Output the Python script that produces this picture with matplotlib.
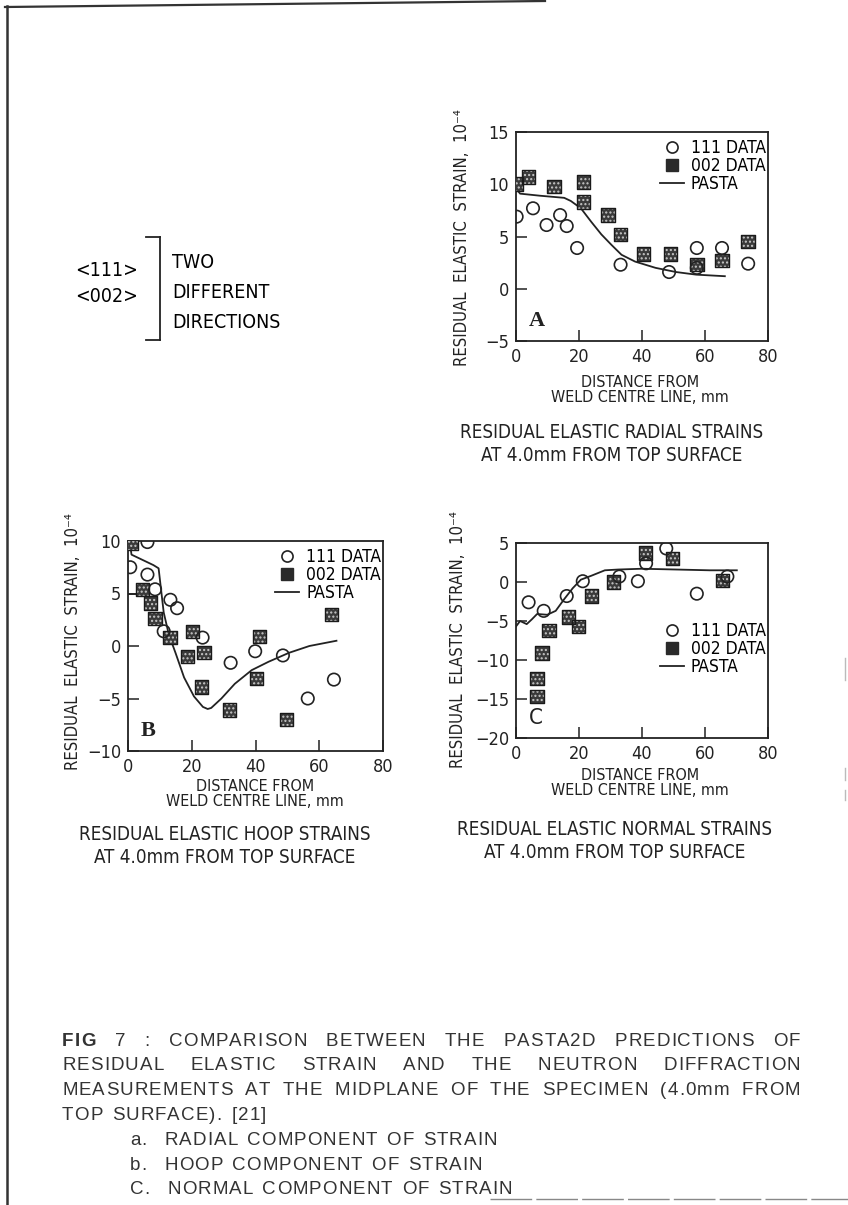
import matplotlib
matplotlib.use("Agg")
import matplotlib.pyplot as plt
from matplotlib import font_manager as fm
from matplotlib.lines import Line2D

W, H = 848, 1205

# look for a narrow sans face (the scan uses condensed lettering)
narrow_name, narrow_stretch = "DejaVu Sans", "normal"
for f in fm.fontManager.ttflist:
    cond = f.stretch in ("condensed", "semi-condensed", "extra-condensed") \
        or "Narrow" in f.name or "Condensed" in f.name
    if cond and "Sans" in f.name and f.style == "normal" and f.weight in (400, "normal", "regular"):
        narrow_name, narrow_stretch = f.name, f.stretch
        break
NARROW = [narrow_name, "DejaVu Sans"]
plt.rcParams['font.family'] = NARROW
plt.rcParams['font.stretch'] = narrow_stretch
plt.rcParams['axes.unicode_minus'] = True

# ---- panel A : radial strain ----
a111_x = [0.2, 5.4, 9.7, 14.0, 16.1, 19.4, 33.2, 48.6, 57.4, 57.4, 65.4, 73.7]
a111_y = [6.9, 7.7, 6.1, 7.05, 6.0, 3.9, 2.3, 1.6, 3.9, 2.0, 3.9, 2.4]
a002_x = [0.2, 4.0, 12.0, 21.5, 21.5, 29.2, 33.2, 40.5, 49.1, 57.4, 65.4, 73.7]
a002_y = [10.0, 10.7, 9.8, 10.2, 8.3, 7.05, 5.2, 3.3, 3.3, 2.3, 2.7, 4.5]
a_pasta_x = [0, 1.3, 7.7, 15.3, 17.4, 20.6, 23.9, 27.1, 30.3, 33.5, 37.8, 44.3, 50.8, 57.2, 66.3]
a_pasta_y = [9.6, 9.1, 8.9, 8.7, 8.4, 7.7, 6.4, 5.2, 4.2, 3.25, 2.6, 2.0, 1.6, 1.35, 1.2]

# ---- panel B : hoop strain ----
b111_x = [0.7, 6.1, 6.1, 8.5, 11.2, 13.3, 15.4, 23.4, 32.2, 39.9, 48.6, 56.4, 64.6]
b111_y = [7.5, 9.9, 6.8, 5.4, 1.4, 4.4, 3.6, 0.8, -1.6, -0.5, -0.9, -5.0, -3.2]
b002_x = [1.1, 4.6, 7.1, 8.5, 13.1, 20.2, 18.6, 23.9, 23.1, 31.9, 41.2, 40.3, 49.7, 63.8]
b002_y = [9.8, 5.4, 4.1, 2.6, 0.8, 1.4, -1.0, -0.6, -3.9, -6.1, 0.9, -3.1, -7.0, 3.0]
b_pasta_x = [0.5, 1.1, 8.0, 9.6, 11.2, 12.8, 14.9, 17.6, 20.7, 23.5, 25.0, 26.1, 29.3, 33.5, 38.8, 44.1, 50.5, 56.9, 65.4]
b_pasta_y = [10.0, 8.7, 7.7, 7.4, 3.2, 1.1, -0.65, -3.0, -4.8, -5.8, -6.0, -5.9, -5.0, -3.6, -2.3, -1.5, -0.65, 0.0, 0.5]
b_surf_x = [0, 6.0]
b_surf_y = [5.0, 5.0]

# ---- panel C : normal strain ----
c111_x = [4.0, 8.8, 16.1, 21.2, 32.8, 38.7, 41.3, 47.7, 57.4, 67.1]
c111_y = [-2.6, -3.7, -1.8, 0.1, 0.7, 0.1, 2.4, 4.3, -1.5, 0.7]
c002_x = [6.7, 6.7, 8.3, 10.4, 16.6, 19.8, 23.9, 30.9, 41.1, 49.7, 65.6]
c002_y = [-12.4, -14.7, -9.1, -6.2, -4.5, -5.7, -1.8, 0.0, 3.7, 3.0, 0.2]
c_pasta_x = [0, 1.3, 3.4, 5.0, 6.7, 9.9, 12.6, 15.3, 18.0, 20.6, 23.9, 28.2, 32.5, 40.0, 50.8, 61.5, 70.1]
c_pasta_y = [-5.7, -5.0, -5.4, -4.8, -4.1, -4.2, -3.7, -2.2, -0.8, 0.3, 0.8, 1.5, 1.6, 1.7, 1.6, 1.5, 1.5]

x_ticks = [0, 20, 40, 60, 80]
legend_labels = ["111 DATA", "002 DATA", "PASTA"]
ylabel = "RESIDUAL  ELASTIC  STRAIN,  10\u207b\u2074"
xlabel = "DISTANCE FROM\nWELD CENTRE LINE, mm"
captions = {
    "A": ("RESIDUAL ELASTIC RADIAL STRAINS", "AT 4.0mm FROM TOP SURFACE"),
    "B": ("RESIDUAL ELASTIC HOOP STRAINS", "AT 4.0mm FROM TOP SURFACE"),
    "C": ("RESIDUAL ELASTIC NORMAL STRAINS", "AT 4.0mm FROM TOP SURFACE"),
}

fig = plt.figure(figsize=(W / 100, H / 100), dpi=100)
fig.patch.set_facecolor("white")


def px_box(l, t, r, b):
    return [l / W, 1 - b / H, (r - l) / W, (b - t) / H]


def fx(x):
    return x / W


def fy(y):
    return 1 - y / H


def draw_panel(box, x111, y111, x002, y002, xp, yp, ylim, yticks, letter,
               leg_anchor, letter_font):
    ax = fig.add_axes(px_box(*box))
    ax.plot(xp, yp, color="#222222", lw=1.3, zorder=2)
    ax.scatter(x002, y002, marker="s", s=95, facecolor="#3a3a3a",
               edgecolor="#c8c8c8", hatch="....", linewidth=0.4, zorder=3)
    ax.scatter(x002, y002, marker="s", s=95, facecolor="none",
               edgecolor="#1a1a1a", linewidth=1.0, zorder=4)
    ax.scatter(x111, y111, marker="o", s=80, facecolor="none",
               edgecolor="#222222", linewidth=1.2, zorder=5)
    ax.set_xlim(0, 80)
    ax.set_ylim(*ylim)
    ax.set_xticks(x_ticks)
    ax.set_yticks(yticks)
    ax.tick_params(direction="in", length=8, width=1.1, labelsize=13,
                   pad=5, colors="#222222")
    for sp in ax.spines.values():
        sp.set_linewidth(1.3)
        sp.set_color("#222222")
    handles = [
        Line2D([], [], marker="o", ls="none", mfc="none", mec="#222222",
               ms=8, mew=1.2),
        Line2D([], [], marker="s", ls="none", mfc="#2a2a2a", mec="#2a2a2a",
               ms=8),
        Line2D([], [], color="#222222", lw=1.3),
    ]
    ax.legend(handles, legend_labels, loc="upper right",
              bbox_to_anchor=leg_anchor, frameon=False,
              handlelength=1.4, handletextpad=0.4, labelspacing=0.0,
              borderaxespad=0.0, prop={"family": NARROW, "size": 12.5,
                                       "stretch": narrow_stretch})
    ax.text(0.05, 0.05, letter, transform=ax.transAxes, fontsize=16,
            family=letter_font, fontweight="bold" if letter != "C" else "normal",
            va="bottom", ha="left", color="#222222")
    return ax


axA = draw_panel((516, 132, 768, 341), a111_x, a111_y, a002_x, a002_y,
                 a_pasta_x, a_pasta_y, (-5, 15), [-5, 0, 5, 10, 15], "A",
                 (1.02, 1.0), ["Liberation Serif", "DejaVu Serif"])
axB = draw_panel((128, 541, 383, 751), b111_x, b111_y, b002_x, b002_y,
                 b_pasta_x, b_pasta_y, (-10, 10), [-10, -5, 0, 5, 10], "B",
                 (1.02, 1.0), ["Liberation Serif", "DejaVu Serif"])
axB.plot(b_surf_x, b_surf_y, color="#222222", lw=1.3, zorder=2)
axC = draw_panel((516, 543, 768, 738), c111_x, c111_y, c002_x, c002_y,
                 c_pasta_x, c_pasta_y, (-20, 5), [-20, -15, -10, -5, 0, 5], "C",
                 (1.02, 0.63), NARROW)

# axis labels and panel captions (placed in figure pixels)
for lx, ly, xl_x, xl_y, cap_x, cap_y, key in [
    (462, 238, 640, 390, 612, 444, "A"),
    (73, 642, 255, 794, 225, 846, "B"),
    (458, 640, 640, 783, 615, 841, "C"),
]:
    fig.text(fx(lx), fy(ly), ylabel, rotation=90, ha="center", va="center",
             fontsize=12, color="#222222")
    fig.text(fx(xl_x), fy(xl_y), xlabel, ha="center", va="center",
             fontsize=11.5, linespacing=1.05, color="#222222")
    fig.text(fx(cap_x), fy(cap_y), captions[key][0] + "\n" + captions[key][1],
             ha="center", va="center", fontsize=13.5, linespacing=1.3,
             color="#222222")

# bracket note
fig.text(fx(107), fy(270), "<111>", ha="center", va="center", fontsize=14)
fig.text(fx(107), fy(296), "<002>", ha="center", va="center", fontsize=14)
for i, word in enumerate(["TWO", "DIFFERENT", "DIRECTIONS"]):
    fig.text(fx(172), fy(263 + 30 * i), word, ha="left", va="center",
             fontsize=14)
fig.add_artist(Line2D([fx(160), fx(160)], [fy(237), fy(340)], color="#222222",
                      lw=1.3))
fig.add_artist(Line2D([fx(146), fx(160)], [fy(237), fy(237)], color="#222222",
                      lw=1.3))
fig.add_artist(Line2D([fx(146), fx(160)], [fy(340), fy(340)], color="#222222",
                      lw=1.3))

# page border fragments
fig.add_artist(Line2D([fx(7), fx(7)], [fy(6), fy(1205)], color="#333333", lw=1.8))
fig.add_artist(Line2D([fx(5), fx(545)], [fy(7), fy(1)], color="#333333", lw=1.6))
fig.add_artist(Line2D([fx(490), fx(848)], [fy(1199), fy(1199)], color="#888888",
                      lw=1.0, ls=(0, (30, 3))))
for y0, y1 in [(658, 680), (768, 780), (790, 800)]:
    fig.add_artist(Line2D([fx(845), fx(845)], [fy(y0), fy(y1)], color="#bbbbbb",
                          lw=1.0))

# figure caption: slight letter spacing, first three lines justified
SANS = ["Liberation Sans", "DejaVu Sans"]
cap_lines = [
    "FIG 7 : COMPARISON BETWEEN THE PASTA2D PREDICTIONS OF",
    "RESIDUAL ELASTIC STRAIN AND THE NEUTRON DIFFRACTION",
    "MEASUREMENTS AT THE MIDPLANE OF THE SPECIMEN (4.0mm FROM",
]
cap_tail = "TOP SURFACE). [21]"
cap_items = ["a.  RADIAL COMPONENT OF STRAIN",
             "b.  HOOP COMPONENT OF STRAIN",
             "C.  NORMAL COMPONENT OF STRAIN"]

renderer = fig.canvas.get_renderer()
prop_n = fm.FontProperties(family=SANS, size=13.5, stretch="normal")
prop_b = fm.FontProperties(family=SANS, size=13.5, weight="bold", stretch="normal")
TRACK = 1.1


def text_w(s, prop):
    return renderer.get_text_width_height_descent(s, prop, ismath=False)[0]


def char_widths(s, bold_n=0):
    out = []
    for i, ch in enumerate(s):
        p = prop_b if i < bold_n else prop_n
        if ch == " ":
            out.append(text_w("x x", p) - text_w("xx", p))
        else:
            out.append(text_w(ch, p))
    return out


def draw_tracked(s, x0, y, space_extra=0.0, bold_n=0):
    ws = char_widths(s, bold_n)
    x = x0
    for i, (ch, w) in enumerate(zip(s, ws)):
        if ch != " ":
            fig.text(fx(x), fy(y), ch, ha="left", va="center",
                     fontproperties=prop_b if i < bold_n else prop_n,
                     color="#333333")
            x += w + TRACK
        else:
            x += w + space_extra


x_left, x_right = 62, 800
line_y = [1041 + 24.8 * i for i in range(7)]
for li, line in enumerate(cap_lines):
    bold_n = 3 if li == 0 else 0
    ws = char_widths(line, bold_n)
    n_sp = line.count(" ")
    n_ch = len(line) - n_sp
    natural = sum(ws) + TRACK * (n_ch - 1)
    extra = (x_right - x_left - natural) / n_sp
    draw_tracked(line, x_left, line_y[li], extra, bold_n)
draw_tracked(cap_tail, x_left, line_y[3], 3.0)
for i, item in enumerate(cap_items):
    draw_tracked(item, 130, line_y[4 + i], 3.0)

fig.savefig("out.png", dpi=100, facecolor="white")
